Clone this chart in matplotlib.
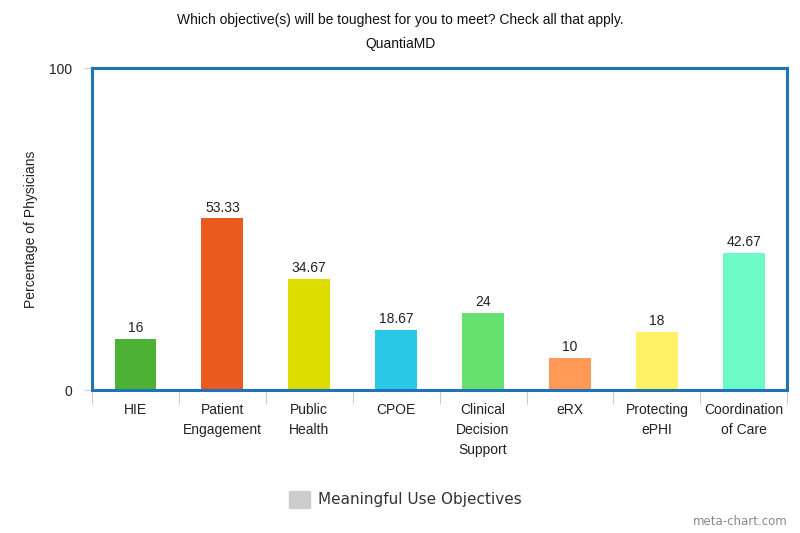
import numpy as np
import matplotlib.pyplot as plt
from matplotlib.patches import Rectangle

# chart data
categories = ['HIE', 'Patient\nEngagement', 'Public\nHealth', 'CPOE',
              'Clinical\nDecision\nSupport', 'eRX', 'Protecting\nePHI',
              'Coordination\nof Care']
values = [16, 53.33, 34.67, 18.67, 24, 10, 18, 42.67]
value_labels = ['16', '53.33', '34.67', '18.67', '24', '10', '18', '42.67']
colors = ['#4DB234', '#EB5A1E', '#DDDD00', '#28C8E6',
          '#66E06E', '#FF9955', '#FFF266', '#6CFAC8']

plt.rcParams['font.family'] = ['Liberation Sans', 'DejaVu Sans']

fig = plt.figure(figsize=(8, 5.33), dpi=100)
ax = fig.add_axes([0.115, 0.268, 0.869, 0.604])

x = np.arange(len(categories))
bars = ax.bar(x, values, width=0.48, color=colors, zorder=2)

for b, lab in zip(bars, value_labels):
    ax.text(b.get_x() + b.get_width() / 2, b.get_height() + 1.2, lab,
            ha='center', va='bottom', fontsize=10, color='#222222')

ax.set_xlim(-0.5, len(categories) - 0.5)
ax.set_ylim(0, 100)
ax.set_yticks([0, 100])
ax.tick_params(axis='y', length=6, color='#cccccc', labelsize=10,
               labelcolor='#222222', pad=8)

# x ticks at category boundaries, labels centred
ax.set_xticks(np.arange(-0.5, len(categories)), minor=False)
ax.set_xticklabels([])
ax.tick_params(axis='x', which='major', length=10, color='#cccccc',
               direction='out')
ax.set_xticks(x, minor=True)
ax.set_xticklabels(categories, minor=True, fontsize=10, color='#222222',
                   linespacing=1.55, va='top')
ax.tick_params(axis='x', which='minor', length=0, pad=9)

for s in ax.spines.values():
    s.set_color('#1f73b7')
    s.set_linewidth(2.2)

ax.set_ylabel('Percentage of Physicians', fontsize=10, color='#222222',
              labelpad=8)

fig.text(0.5, 0.962, 'Which objective(s) will be toughest for you to meet? Check all that apply.',
         ha='center', va='center', fontsize=10, color='#111111')
fig.text(0.5, 0.917, 'QuantiaMD', ha='center', va='center', fontsize=10,
         color='#111111')

# legend
fig.patches.append(Rectangle((0.361, 0.047), 0.026, 0.032,
                             transform=fig.transFigure, color='#cccccc'))
fig.text(0.397, 0.063, 'Meaningful Use Objectives', ha='left', va='center',
         fontsize=11, color='#333333', family=['DejaVu Sans'])

fig.text(0.985, 0.022, 'meta-chart.com', ha='right', va='center',
         fontsize=8.5, color='#888888', family=['DejaVu Sans'])

fig.savefig('out.png', dpi=100)
